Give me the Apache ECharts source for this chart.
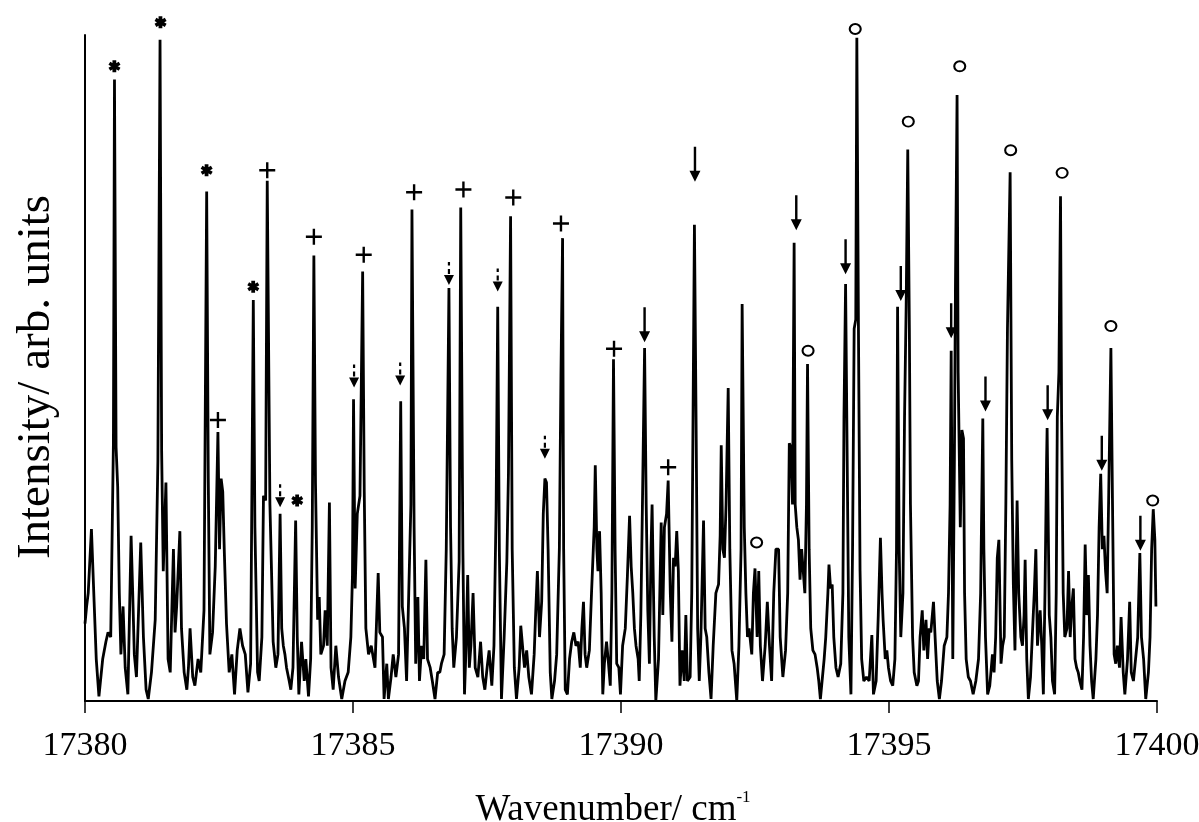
<!DOCTYPE html>
<html>
<head>
<meta charset="utf-8">
<title>Spectrum 17380-17400 cm-1</title>
<script src="https://cdn.jsdelivr.net/npm/echarts@6/dist/echarts.min.js"></script>
<style>
  html, body { margin: 0; padding: 0; background: #ffffff; }
  #chart { width: 1199px; height: 822px; }
</style>
</head>
<body>
<div id="chart"></div>
<script>
// Axis ticks (wavenumber, cm-1)
const tickValues = [17380, 17385, 17390, 17395, 17400];

// Recorded spectrum: [wavenumber / cm-1, intensity / arb. units]
const spectrum = [
  [17380.00,11.6],[17380.03,14.2],[17380.06,16.2],[17380.12,25.8],[17380.17,14.9],[17380.21,6.3],
  [17380.26,0.7],[17380.33,6.3],[17380.39,8.9],[17380.43,10.3],[17380.48,9.6],[17380.53,38.7],
  [17380.55,93.3],[17380.58,38.1],[17380.61,32.1],[17380.64,16.2],[17380.67,7.0],[17380.71,14.2],
  [17380.75,5.0],[17380.80,1.0],[17380.86,24.8],[17380.89,16.2],[17380.92,7.0],[17380.96,3.6],
  [17381.04,23.8],[17381.09,9.6],[17381.14,1.7],[17381.18,0.3],[17381.24,4.3],[17381.31,12.2],
  [17381.36,36.1],[17381.40,99.3],[17381.43,37.4],[17381.46,19.5],[17381.51,32.8],[17381.55,6.3],
  [17381.59,4.3],[17381.65,22.8],[17381.68,10.3],[17381.71,14.2],[17381.77,25.5],[17381.80,10.9],
  [17381.85,4.3],[17381.90,1.7],[17381.93,5.0],[17381.96,10.9],[17382.01,3.6],[17382.05,2.3],
  [17382.11,6.3],[17382.16,4.3],[17382.22,13.6],[17382.27,76.5],[17382.30,33.4],[17382.33,7.0],
  [17382.38,10.3],[17382.43,20.2],[17382.48,40.4],[17382.51,22.8],[17382.54,33.4],[17382.57,31.4],
  [17382.60,22.2],[17382.64,11.6],[17382.69,4.3],[17382.74,7.0],[17382.79,1.0],[17382.84,7.6],
  [17382.89,10.9],[17382.94,8.3],[17382.99,7.0],[17383.04,1.3],[17383.09,5.6],[17383.14,60.2],
  [17383.17,26.1],[17383.22,4.3],[17383.25,3.0],[17383.30,9.6],[17383.33,30.8],[17383.37,30.1],
  [17383.40,78.1],[17383.45,29.5],[17383.48,19.5],[17383.51,8.9],[17383.56,5.0],[17383.60,7.0],
  [17383.64,28.1],[17383.67,10.9],[17383.70,8.3],[17383.73,7.0],[17383.76,5.0],[17383.81,3.0],
  [17383.84,1.7],[17383.88,5.0],[17383.93,27.1],[17383.96,9.6],[17383.99,1.0],[17384.04,8.9],
  [17384.09,3.0],[17384.12,6.3],[17384.17,0.7],[17384.21,6.3],[17384.24,26.1],[17384.27,66.9],
  [17384.30,32.8],[17384.34,12.2],[17384.37,15.6],[17384.40,7.0],[17384.45,8.3],[17384.48,13.6],
  [17384.52,8.3],[17384.56,29.8],[17384.59,5.0],[17384.63,1.7],[17384.68,8.3],[17384.73,3.6],
  [17384.79,0.3],[17384.85,3.0],[17384.91,4.3],[17384.96,9.6],[17384.99,18.9],[17385.01,45.3],
  [17385.04,16.9],[17385.08,28.1],[17385.13,30.8],[17385.18,64.5],[17385.21,31.4],[17385.24,10.9],
  [17385.29,7.0],[17385.34,8.3],[17385.41,5.0],[17385.47,19.2],[17385.50,10.3],[17385.55,9.6],
  [17385.58,0.3],[17385.63,5.6],[17385.66,0.3],[17385.71,3.6],[17385.75,7.0],[17385.80,3.6],
  [17385.85,7.0],[17385.87,26.1],[17385.89,45.0],[17385.92,14.2],[17385.96,10.9],[17386.00,3.0],
  [17386.04,16.2],[17386.08,29.5],[17386.10,73.8],[17386.14,26.1],[17386.17,5.6],[17386.21,15.6],
  [17386.24,3.0],[17386.28,8.3],[17386.32,6.3],[17386.36,21.2],[17386.39,6.3],[17386.44,5.0],
  [17386.48,3.0],[17386.53,0.3],[17386.58,4.3],[17386.62,4.3],[17386.65,5.6],[17386.70,7.0],
  [17386.74,22.8],[17386.79,62.0],[17386.82,26.1],[17386.85,10.9],[17386.88,5.0],[17386.93,9.6],
  [17386.98,20.9],[17387.01,74.1],[17387.05,22.8],[17387.08,1.0],[17387.11,8.3],[17387.14,18.9],
  [17387.17,5.0],[17387.20,8.3],[17387.24,16.2],[17387.28,5.0],[17387.33,3.6],[17387.38,8.9],
  [17387.42,3.6],[17387.46,1.7],[17387.51,5.6],[17387.54,7.6],[17387.59,2.3],[17387.63,8.3],
  [17387.67,28.8],[17387.70,59.2],[17387.73,22.8],[17387.77,0.3],[17387.82,9.6],[17387.87,20.9],
  [17387.90,34.1],[17387.94,72.8],[17387.97,22.8],[17388.01,5.0],[17388.05,0.3],[17388.10,5.0],
  [17388.13,11.3],[17388.17,7.6],[17388.20,5.0],[17388.24,7.6],[17388.28,3.6],[17388.33,1.0],
  [17388.38,7.0],[17388.41,13.6],[17388.44,19.5],[17388.48,9.6],[17388.52,14.9],[17388.55,28.1],
  [17388.58,33.4],[17388.61,32.8],[17388.64,22.8],[17388.68,4.3],[17388.71,0.3],[17388.76,3.0],
  [17388.80,7.0],[17388.85,22.8],[17388.88,49.3],[17388.91,69.5],[17388.93,22.8],[17388.96,1.7],
  [17389.00,1.0],[17389.04,6.3],[17389.08,8.9],[17389.12,10.3],[17389.16,8.3],[17389.20,8.9],
  [17389.24,5.0],[17389.27,10.9],[17389.30,14.9],[17389.33,7.0],[17389.36,5.0],[17389.41,7.6],
  [17389.45,16.2],[17389.50,26.1],[17389.52,35.4],[17389.55,22.8],[17389.57,19.5],[17389.60,25.5],
  [17389.63,16.2],[17389.66,1.0],[17389.69,5.6],[17389.73,8.9],[17389.76,6.3],[17389.80,2.3],
  [17389.83,16.2],[17389.86,51.3],[17389.89,22.8],[17389.92,5.6],[17389.96,5.0],[17389.99,1.0],
  [17390.03,8.3],[17390.08,10.9],[17390.12,18.9],[17390.16,27.8],[17390.19,20.2],[17390.22,16.2],
  [17390.25,10.9],[17390.28,8.3],[17390.32,6.3],[17390.34,3.0],[17390.37,12.9],[17390.40,29.5],
  [17390.44,53.0],[17390.47,29.5],[17390.50,13.6],[17390.53,5.6],[17390.56,22.8],[17390.58,29.5],
  [17390.62,9.6],[17390.65,0.0],[17390.70,6.3],[17390.75,26.8],[17390.78,12.9],[17390.81,26.1],
  [17390.85,28.1],[17390.88,33.1],[17390.92,16.2],[17390.95,8.9],[17390.98,21.5],[17391.01,20.2],
  [17391.04,25.5],[17391.07,19.5],[17391.10,2.3],[17391.14,7.6],[17391.18,3.0],[17391.21,12.9],
  [17391.24,3.0],[17391.29,3.6],[17391.32,16.2],[17391.35,49.3],[17391.37,71.5],[17391.40,42.7],
  [17391.43,10.9],[17391.46,3.0],[17391.49,9.6],[17391.54,27.1],[17391.57,10.9],[17391.60,9.6],
  [17391.64,4.3],[17391.68,0.3],[17391.72,8.3],[17391.77,16.2],[17391.82,17.5],[17391.85,24.8],
  [17391.87,38.4],[17391.90,22.8],[17391.93,21.5],[17391.96,29.5],[17392.00,47.0],[17392.03,22.8],
  [17392.07,7.6],[17392.11,5.6],[17392.16,0.0],[17392.20,8.3],[17392.24,22.8],[17392.26,59.6],
  [17392.30,26.1],[17392.33,16.2],[17392.36,9.6],[17392.39,10.9],[17392.44,7.0],[17392.47,16.2],
  [17392.50,19.9],[17392.54,9.6],[17392.57,19.5],[17392.60,8.3],[17392.64,3.0],[17392.69,8.3],
  [17392.73,14.9],[17392.77,8.3],[17392.81,3.0],[17392.85,16.2],[17392.89,22.8],[17392.94,22.8],
  [17392.97,9.6],[17393.02,3.6],[17393.07,7.6],[17393.11,16.2],[17393.14,38.7],[17393.17,38.1],
  [17393.20,29.5],[17393.23,68.8],[17393.25,29.5],[17393.28,26.1],[17393.31,24.2],[17393.34,18.2],
  [17393.37,22.8],[17393.40,19.5],[17393.43,16.2],[17393.46,29.5],[17393.48,50.6],[17393.51,22.8],
  [17393.54,10.9],[17393.58,7.6],[17393.62,7.0],[17393.66,5.0],[17393.69,3.0],[17393.72,0.3],
  [17393.79,6.3],[17393.82,9.6],[17393.86,16.2],[17393.88,20.5],[17393.91,16.9],[17393.94,17.5],
  [17393.97,9.6],[17394.01,5.0],[17394.05,3.6],[17394.10,5.6],[17394.14,16.2],[17394.16,42.7],
  [17394.19,62.6],[17394.22,36.1],[17394.25,9.6],[17394.29,1.0],[17394.32,22.8],[17394.35,55.9],
  [17394.38,57.3],[17394.40,99.6],[17394.43,55.9],[17394.46,19.5],[17394.49,6.3],[17394.53,3.0],
  [17394.58,3.6],[17394.63,3.0],[17394.68,9.9],[17394.71,1.0],[17394.76,3.0],[17394.80,12.9],
  [17394.84,24.5],[17394.87,16.2],[17394.89,12.2],[17394.93,6.3],[17394.96,7.6],[17394.99,5.0],
  [17395.03,3.0],[17395.07,2.3],[17395.11,6.3],[17395.14,22.8],[17395.16,59.2],[17395.19,22.8],
  [17395.22,9.6],[17395.26,16.2],[17395.29,42.7],[17395.32,59.2],[17395.35,82.8],[17395.38,55.9],
  [17395.40,29.5],[17395.44,9.6],[17395.47,4.3],[17395.52,2.3],[17395.55,3.0],[17395.58,9.6],
  [17395.62,13.6],[17395.65,7.6],[17395.69,12.2],[17395.72,6.3],[17395.75,10.9],[17395.78,10.3],
  [17395.83,14.9],[17395.86,9.6],[17395.90,3.0],[17395.94,0.3],[17395.98,3.0],[17396.03,8.3],
  [17396.08,9.6],[17396.11,16.2],[17396.14,29.5],[17396.16,52.6],[17396.19,6.3],[17396.22,36.1],
  [17396.24,62.6],[17396.27,91.0],[17396.29,49.3],[17396.33,26.1],[17396.36,40.7],[17396.39,39.4],
  [17396.41,16.2],[17396.44,6.3],[17396.48,3.6],[17396.52,3.0],[17396.57,1.0],[17396.62,3.0],
  [17396.67,6.3],[17396.71,16.2],[17396.75,42.4],[17396.77,22.8],[17396.80,9.6],[17396.84,1.0],
  [17396.88,2.3],[17396.93,7.0],[17396.96,4.3],[17396.99,9.6],[17397.02,21.5],[17397.05,24.2],
  [17397.09,5.6],[17397.12,8.3],[17397.15,9.6],[17397.18,29.5],[17397.21,55.9],[17397.26,79.4],
  [17397.29,36.1],[17397.32,17.5],[17397.35,7.6],[17397.37,19.5],[17397.39,30.1],[17397.42,16.2],
  [17397.46,9.6],[17397.49,8.3],[17397.52,12.9],[17397.54,21.2],[17397.57,6.3],[17397.60,0.3],
  [17397.64,3.6],[17397.68,10.9],[17397.71,16.2],[17397.74,22.8],[17397.77,8.3],[17397.79,10.9],
  [17397.82,13.6],[17397.85,8.3],[17397.88,1.0],[17397.91,16.2],[17397.94,36.1],[17397.95,41.0],
  [17397.99,12.9],[17398.02,9.6],[17398.05,3.0],[17398.09,1.0],[17398.12,16.2],[17398.14,42.7],
  [17398.17,49.3],[17398.20,75.8],[17398.22,42.7],[17398.25,16.2],[17398.28,9.6],[17398.32,10.9],
  [17398.35,19.5],[17398.38,9.6],[17398.41,14.2],[17398.44,16.9],[17398.47,6.3],[17398.50,5.0],
  [17398.53,4.3],[17398.56,3.0],[17398.60,1.7],[17398.63,9.6],[17398.66,23.5],[17398.69,12.9],
  [17398.72,18.9],[17398.75,8.3],[17398.78,3.0],[17398.81,0.3],[17398.86,6.3],[17398.89,12.9],
  [17398.92,26.1],[17398.95,34.1],[17398.98,22.8],[17399.01,24.8],[17399.04,19.5],[17399.07,16.2],
  [17399.10,31.4],[17399.14,53.0],[17399.17,29.5],[17399.20,7.0],[17399.23,5.6],[17399.26,8.3],
  [17399.30,5.0],[17399.33,12.6],[17399.37,4.3],[17399.40,1.0],[17399.45,6.3],[17399.49,14.9],
  [17399.52,4.3],[17399.56,3.0],[17399.60,6.3],[17399.64,9.6],[17399.68,22.2],[17399.71,9.6],
  [17399.75,6.3],[17399.79,0.3],[17399.84,4.3],[17399.87,9.6],[17399.90,22.8],[17399.93,28.8],
  [17399.96,24.2],[17399.98,14.2]
];

// Line assignments: [wavenumber, level of the symbol]
const starMarks = [[17380.55,95.3],[17381.41,101.9],[17382.27,79.7],[17383.14,62.2],[17383.96,30.1]];
const plusMarks = [[17382.48,42.2],[17383.40,79.7],[17384.27,69.7],[17385.20,67.0],[17386.14,76.4],
                   [17387.06,76.8],[17387.99,75.6],[17388.88,71.7],[17389.87,52.9],[17390.88,35.1]];
const dashedArrowMarks = [[17383.64,30.8],[17385.02,48.8],[17385.88,49.1],[17386.79,64.2],[17387.70,63.2],[17388.58,38.1]];
const arrowMarks = [[17390.44,56.5],[17391.38,80.6],[17393.27,73.3],[17394.19,66.7],[17395.22,62.7],
                    [17396.16,57.1],[17396.80,46.1],[17397.96,44.8],[17398.97,37.2],[17399.69,25.2]];
const circleMarks = [[17392.53,23.8],[17393.49,52.6],[17394.37,100.9],[17395.36,87.0],[17396.32,95.3],
                     [17397.27,82.7],[17398.23,79.3],[17399.14,56.3],[17399.92,30.1]];

const SERIF = '"Liberation Serif", "DejaVu Serif", "Times New Roman", serif';
const INK = '#000000';

// Symbol outlines
const ASTERISK = 'path://M3.4,0 L6.6,0 L6.6,10 L3.4,10 Z M0.02,3.8 L1.52,1.2 L10.18,6.2 L8.68,8.8 Z M0.02,6.2 L8.68,1.2 L10.18,3.8 L1.52,8.8 Z';
const PLUS = 'path://M0,6.8 L16,6.8 L16,9.2 L0,9.2 Z M6.8,0 L9.2,0 L9.2,16 L6.8,16 Z';
const ARROW = 'path://M3.9,0 L6.1,0 L6.1,24 L10,24 L5,35 L0,24 L3.9,24 Z';
const DASHED_ARROW = 'path://M3.9,0 L6.1,0 L6.1,3.5 L3.9,3.5 Z M3.9,7 L6.1,7 L6.1,12 L3.9,12 Z M0,13 L10,13 L5,23 Z';

function markSeries(data, symbol, size, style) {
  return {
    type: 'scatter',
    data: data,
    symbol: symbol,
    symbolSize: size,
    clip: false,
    z: 5,
    silent: true,
    itemStyle: Object.assign({ color: INK, opacity: 1 }, style || {})
  };
}

const chart = echarts.init(document.getElementById('chart'), null, { renderer: 'canvas' });

chart.setOption({
  animation: false,
  backgroundColor: '#ffffff',
  grid: { left: 85, right: 42, top: 35, bottom: 121, containLabel: false, outerBoundsMode: 'none' },
  xAxis: {
    type: 'value',
    min: tickValues[0],
    max: tickValues[tickValues.length - 1],
    interval: tickValues[1] - tickValues[0],
    name: '{t|Wavenumber/ cm}{s|-1}',
    nameLocation: 'middle',
    nameGap: 88,
    nameTextStyle: {
      padding: [0, 16, 0, 0],
      rich: {
        t: { fontFamily: SERIF, fontSize: 37, color: INK, lineHeight: 42 },
        s: { fontFamily: SERIF, fontSize: 17, color: INK, lineHeight: 20, verticalAlign: 'top' }
      }
    },
    axisLine: { show: true, lineStyle: { color: INK, width: 2 } },
    axisTick: { show: true, inside: false, length: 12, lineStyle: { color: INK, width: 1.5 } },
    axisLabel: {
      fontFamily: SERIF, fontSize: 34, color: INK, margin: 28,
      formatter: function (v) { return String(v); }
    },
    splitLine: { show: false }
  },
  yAxis: {
    type: 'value',
    min: 0,
    max: 100,
    name: 'Intensity/ arb. units',
    nameLocation: 'middle',
    nameGap: 25,
    nameTextStyle: { fontFamily: SERIF, fontSize: 47, color: INK, padding: [0, 18, 0, 0] },
    axisLine: { show: true, lineStyle: { color: INK, width: 2 } },
    axisTick: { show: false },
    axisLabel: { show: false },
    splitLine: { show: false }
  },
  series: [
    {
      type: 'line',
      data: spectrum,
      showSymbol: false,
      smooth: false,
      silent: true,
      lineStyle: { color: INK, width: 2.8 },
      z: 3
    },
    markSeries(starMarks, ASTERISK, [12, 12]),
    markSeries(plusMarks, PLUS, [16, 16]),
    markSeries(dashedArrowMarks, DASHED_ARROW, [10, 23]),
    markSeries(arrowMarks, ARROW, [11, 35]),
    markSeries(circleMarks, 'emptyCircle', [11, 10], { borderWidth: 2.6 })
  ]
});
</script>
</body>
</html>
